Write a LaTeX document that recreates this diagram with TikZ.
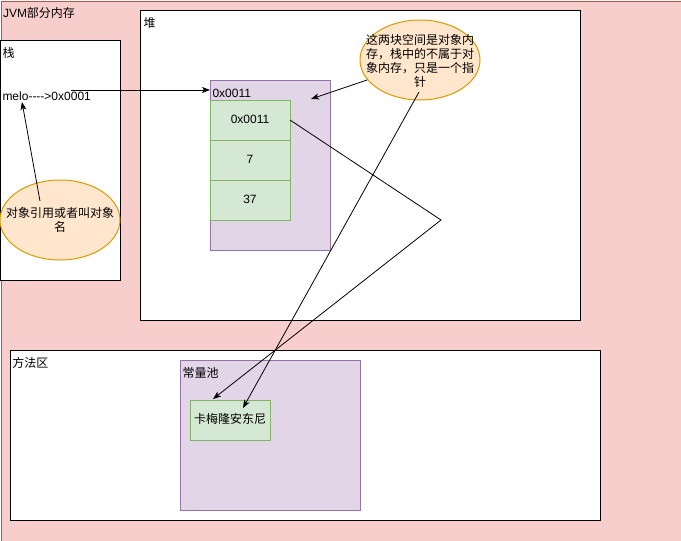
\documentclass[tikz,border=0pt]{standalone}
\usepackage{fontspec}
\setmainfont{Liberation Sans}
\newfontfamily\cjk{Noto Sans CJK SC}
\usetikzlibrary{arrows.meta,shapes.geometric}
\definecolor{redfill}{HTML}{F8CECC}
\definecolor{redline}{HTML}{B85450}
\definecolor{purfill}{HTML}{E1D5E7}
\definecolor{purline}{HTML}{9673A6}
\definecolor{grnfill}{HTML}{D5E8D4}
\definecolor{grnline}{HTML}{82B366}
\definecolor{orgfill}{HTML}{FFE6CC}
\definecolor{orgline}{HTML}{D79B00}
\begin{document}
\begin{tikzpicture}[x=1pt,y=-1pt,line width=1pt,
  font=\fontsize{12}{14}\selectfont,
  box/.style={draw=black,fill=white,anchor=north west,inner sep=0pt,outer sep=0pt},
  pbox/.style={draw=purline,fill=purfill,anchor=north west,inner sep=0pt,outer sep=0pt},
  gbox/.style={draw=grnline,fill=grnfill,anchor=north west,inner sep=0pt,outer sep=0pt,minimum width=80pt,minimum height=40pt,text height=9pt,text depth=3pt},
  ell/.style={ellipse,draw=orgline,fill=orgfill,inner sep=0pt,minimum width=120pt,minimum height=80pt},
  etxt/.style={inner sep=0pt,align=center},
  lbl/.style={anchor=west,inner sep=0pt,text height=9pt,text depth=3pt},
  arr/.style={-{Stealth[length=8pt,width=6pt,inset=2pt]},line width=0.8pt},
  ln/.style={line width=0.8pt}]
\useasboundingbox (0,0) rectangle (681,541);
% outer
\node[draw=redline,fill=redfill,anchor=north west,inner sep=0pt,minimum width=680pt,minimum height=540pt] (jvm) at (0.5,0.5) {};
\node[lbl] (jvmlbl) at ([shift={(2,14)}]jvm.north west) {JVM{\cjk 部分内存}};
% stack
\node[box,minimum width=120pt,minimum height=240pt] (stack) at (0,40) {};
\node[lbl] (stacklbl) at ([shift={(2,14)}]stack.north west) {\cjk 栈};
\node[lbl] (melo) at (2,97.5) {melo-{}-{}-{}->0x0001};
% heap
\node[box,minimum width=440pt,minimum height=310pt] (heap) at (140,10) {};
\node[lbl] (heaplbl) at ([shift={(3,14)}]heap.north west) {\cjk 堆};
\node[pbox,minimum width=120pt,minimum height=170pt] (obj) at (210,80) {};
\node[lbl] (objlbl) at ([shift={(2,14)}]obj.north west) {0x0011};
\node[gbox] (c1) at (210,100) {0x0011};
\node[gbox] (c2) at (210,140) {7};
\node[gbox] (c3) at (210,180) {37};
% method area
\node[box,minimum width=590pt,minimum height=170pt] (method) at (10,350) {};
\node[lbl] (methodlbl) at ([shift={(2,14)}]method.north west) {\cjk 方法区};
\node[pbox,minimum width=180pt,minimum height=150pt] (pool) at (180,360) {};
\node[lbl] (poollbl) at ([shift={(2,14)}]pool.north west) {\cjk 常量池};
\node[gbox] (name) at (190,400) {\cjk 卡梅隆安东尼};
% ellipses
\node[ell] (e1) at (60,220) {};
\node[etxt] (e1t) at (e1.center) {\cjk 对象引用或者叫对象\\\cjk 名};
\node[ell] (e2) at (420,60) {};
\node[etxt] (e2t) at ([shift={(0,1)}]e2.center) {\cjk 这两块空间是对象内\\\cjk 存，栈中的不属于对\\\cjk 象内存，只是一个指\\\cjk 针};
% connectors
\coordinate (m1) at (71,90);
\coordinate (m2) at (210,90);
\draw[arr] (m1) -- (m2);
\coordinate (e1s) at (40,201);
\coordinate (e1tip) at (22,102);
\draw[arr] (e1s) -- (e1tip);
\coordinate (e2s) at (367,80);
\coordinate (e2tip) at (311,99);
\draw[arr] (e2s) -- (e2tip);
\coordinate (bend) at (441,220);
\coordinate (nt1) at (213,399);
\draw[arr] (c1.east) -- (bend) -- (nt1);
\coordinate (e2b) at (419,92);
\coordinate (nt2) at (243,408);
\draw[arr] (e2b) -- (nt2);
\end{tikzpicture}
\end{document}
